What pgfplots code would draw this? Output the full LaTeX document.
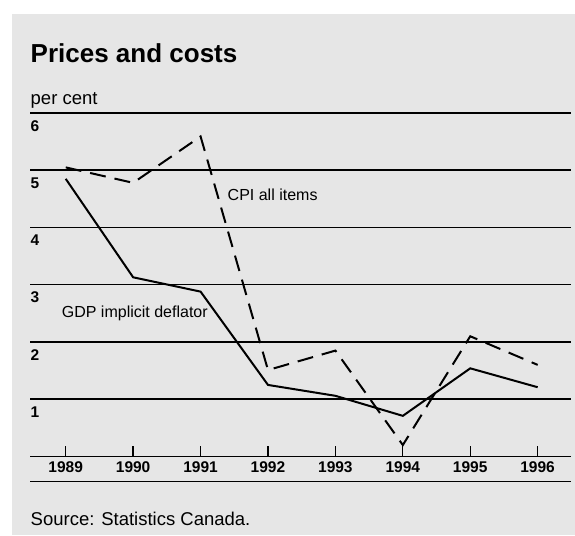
\documentclass[border=0pt]{standalone}
\usepackage{fontspec}
\setmainfont{Liberation Sans}
\usepackage{pgfplots}
\pgfplotsset{compat=1.18}

\definecolor{panel}{HTML}{E6E6E6}

\begin{document}
\begin{tikzpicture}
% page and grey panel
\path[fill=white] (0,0) rectangle (575pt,535pt);
\path[fill=panel] (12pt,0) rectangle (575pt,521pt);

\node[anchor=base west, inner sep=0pt, font=\fontsize{26}{30}\selectfont\bfseries]
  at (30.5pt,472pt) {Prices and costs};
\node[anchor=base west, inner sep=0pt, font=\fontsize{18.5}{22}\selectfont]
  at (30.5pt,430pt) {per cent};
\node[anchor=base west, inner sep=0pt, font=\fontsize{18.5}{22}\selectfont]
  at (30.5pt,10pt) {Source: Statistics Canada.};

\begin{axis}[
    at={(30pt,78.5pt)}, anchor=south west,
    scale only axis,
    width=540.7pt, height=343.5pt,
    xmin=1988.47, xmax=1996.49,
    ymin=0, ymax=6,
    clip=false,
    separate axis lines,
    x axis line style={black, line width=1.6pt},
    y axis line style={draw=none},
    xtick={1989,...,1996},
    xtick pos=bottom,
    tick align=inside,
    major tick length=10pt,
    xtick style={black, line width=1.3pt},
    ytick={1,...,6},
    ytick style={draw=none},
    ymajorgrids,
    major grid style={black, line width=1.5pt},
    /pgf/number format/assume math mode=true,
    /pgf/number format/1000 sep={},
    ticklabel style={font=\fontsize{15.5}{18}\selectfont\bfseries},
    xticklabel style={anchor=north, inner sep=0pt, yshift=-5pt},
    yticklabel style={anchor=north west, inner sep=0pt, xshift=0.5pt, yshift=-7pt},
]
% GDP implicit deflator
\addplot[black, line width=2pt] coordinates {
  (1989,4.85) (1990,3.13) (1991,2.88) (1992,1.25)
  (1993,1.06) (1994,0.71) (1995,1.54) (1996,1.21)};
% CPI all items
\addplot[black, line width=2pt, dash pattern=on 16pt off 9pt] coordinates {
  (1989,5.05) (1990,4.78) (1991,5.59) (1992,1.51)
  (1993,1.85) (1994,0.2) (1995,2.1) (1996,1.6)};

\node[anchor=west, inner sep=0pt, font=\fontsize{16}{19}\selectfont]
  at (axis cs:1988.94,2.5) {GDP implicit deflator};
\node[anchor=west, inner sep=0pt, font=\fontsize{16}{19}\selectfont]
  at (axis cs:1991.40,4.57) {CPI all items};

% closing rule under the year labels
\draw[black, line width=1.6pt] ([yshift=-25.2pt]rel axis cs:0,0) -- ([yshift=-25.2pt]rel axis cs:1,0);
\end{axis}
\end{tikzpicture}
\end{document}
